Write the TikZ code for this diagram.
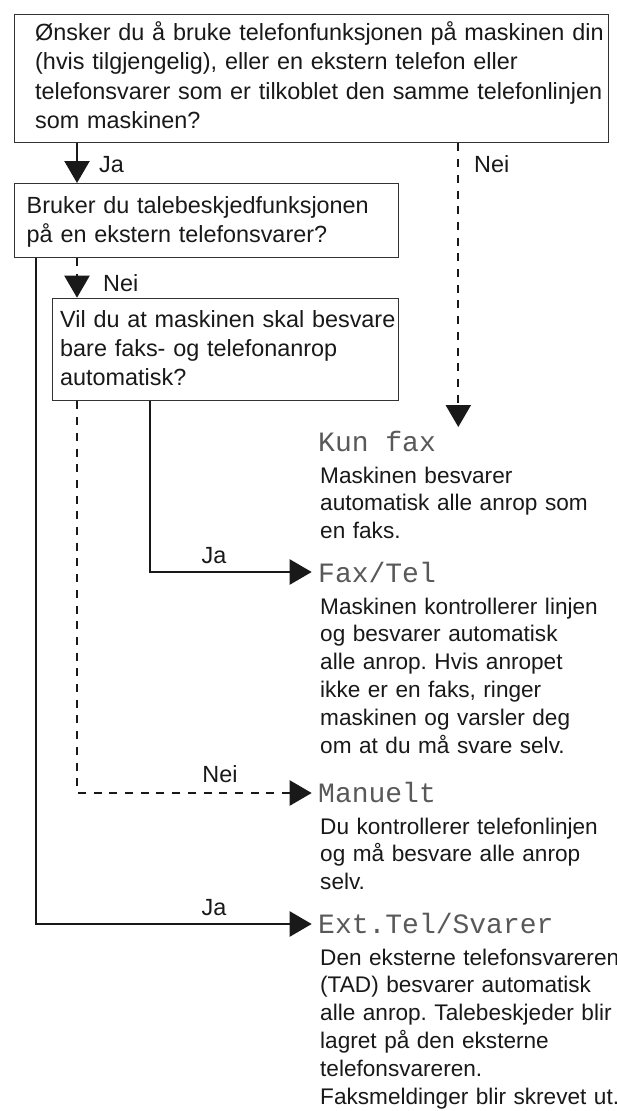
\documentclass[tikz,border=0pt]{standalone}
\usepackage{fontspec}
\setmainfont{Liberation Sans}
\newfontfamily\lcdfont{Liberation Mono}
\usetikzlibrary{arrows.meta}
\frenchspacing
\begin{document}
\begin{tikzpicture}[x=1pt,y=-1pt,
  box/.style={draw=black!80, line width=1.4pt, inner sep=0pt, anchor=north west},
  boxtext/.style={anchor=base west, inner sep=0pt, text width=585pt, align=left, text=black!90, font=\fontsize{23.4}{29.3}\selectfont\frenchspacing},
  desc/.style={anchor=base west, inner sep=0pt, text width=320pt, align=left, text=black!90, font=\fontsize{22.6}{27.8}\selectfont\frenchspacing},
  lcd/.style={anchor=base west, inner sep=0pt, font=\fontsize{28}{28}\lcdfont, text=black!65},
  lbl/.style={inner sep=0pt, text=black!90, font=\fontsize{23.4}{28}\selectfont},
  conn/.style={line width=2.3pt, draw=black!90, -{Triangle[length=22pt,width=25pt]}},
  dsh/.style={dash pattern=on 8pt off 7.7pt}
]
\fill[white] (0,0) rectangle (617,1111);
\useasboundingbox (0,0) rectangle (617,1111);

% question boxes
\node[box, minimum width=593.7pt, minimum height=128pt] (q1) at (14,14) {};
\node[box, minimum width=383.7pt, minimum height=74pt] (q2) at (14,183) {};
\node[box, minimum width=346pt, minimum height=102.3pt] (q3) at (51.7,297.7) {};

\node[boxtext] (q1t) at (35,40.5) {Ønsker du å bruke telefonfunksjonen på maskinen din\\(hvis tilgjengelig), eller en ekstern telefon eller\\telefonsvarer som er tilkoblet den samme telefonlinjen\\som maskinen?};
\node[boxtext] (q2t) at (26.5,213) {Bruker du talebeskjedfunksjonen\\på en ekstern telefonsvarer?};
\node[boxtext] (q3t) at (60,327) {Vil du at maskinen skal besvare\\bare faks- og telefonanrop\\automatisk?};

% results
\node[lcd] (t1) at (318,451) {Kun fax};
\node[lcd] (t2) at (318,582) {Fax/Tel};
\node[lcd] (t3) at (318,802) {Manuelt};
\node[lcd] (t4) at (318,933) {Ext.Tel/Svarer};

\node[desc] (d1) at (320,483) {Maskinen besvarer\\automatisk alle anrop som\\en faks.};
\node[desc] (d2) at (320,614) {Maskinen kontrollerer linjen\\og besvarer automatisk\\alle anrop. Hvis anropet\\ikke er en faks, ringer\\maskinen og varsler deg\\om at du må svare selv.};
\node[desc] (d3) at (320,834) {Du kontrollerer telefonlinjen\\og må besvare alle anrop\\selv.};
\node[desc] (d4) at (320,965) {Den eksterne telefonsvareren\\(TAD) besvarer automatisk\\alle anrop. Talebeskjeder blir\\lagret på den eksterne\\telefonsvareren.\\Faksmeldinger blir skrevet ut.};

% helper coordinates
\coordinate (xa) at (77,0);
\coordinate (xn) at (458.3,0);
\coordinate (xs) at (36,0);
\coordinate (xf) at (150,0);
\coordinate (e1) at (458.3,427);
\coordinate (a2) at (311.7,572);
\coordinate (a3) at (311.7,793);
\coordinate (a4) at (311.7,924);

% connectors
\draw[conn] (q1.south -| xa) -- (q2.north -| xa);
\draw[conn,dsh] (q1.south -| xn) -- (e1);
\draw[conn,dsh] (q2.south -| xa) -- (q3.north -| xa);
\draw[conn] (q2.south -| xs) |- (a4);
\draw[conn,dsh] (q3.south -| xa) |- (a3);
\draw[conn] (q3.south -| xf) |- (a2);

% labels
\node[lbl, anchor=base west] (l1) at (99,172) {Ja};
\node[lbl, anchor=base west] (l2) at (474,172) {Nei};
\node[lbl, anchor=base west] (l3) at (103,291) {Nei};
\node[lbl, anchor=base] (l4) at (214,563) {Ja};
\node[lbl, anchor=base] (l5) at (220,782) {Nei};
\node[lbl, anchor=base] (l6) at (214,915) {Ja};
\end{tikzpicture}
\end{document}
